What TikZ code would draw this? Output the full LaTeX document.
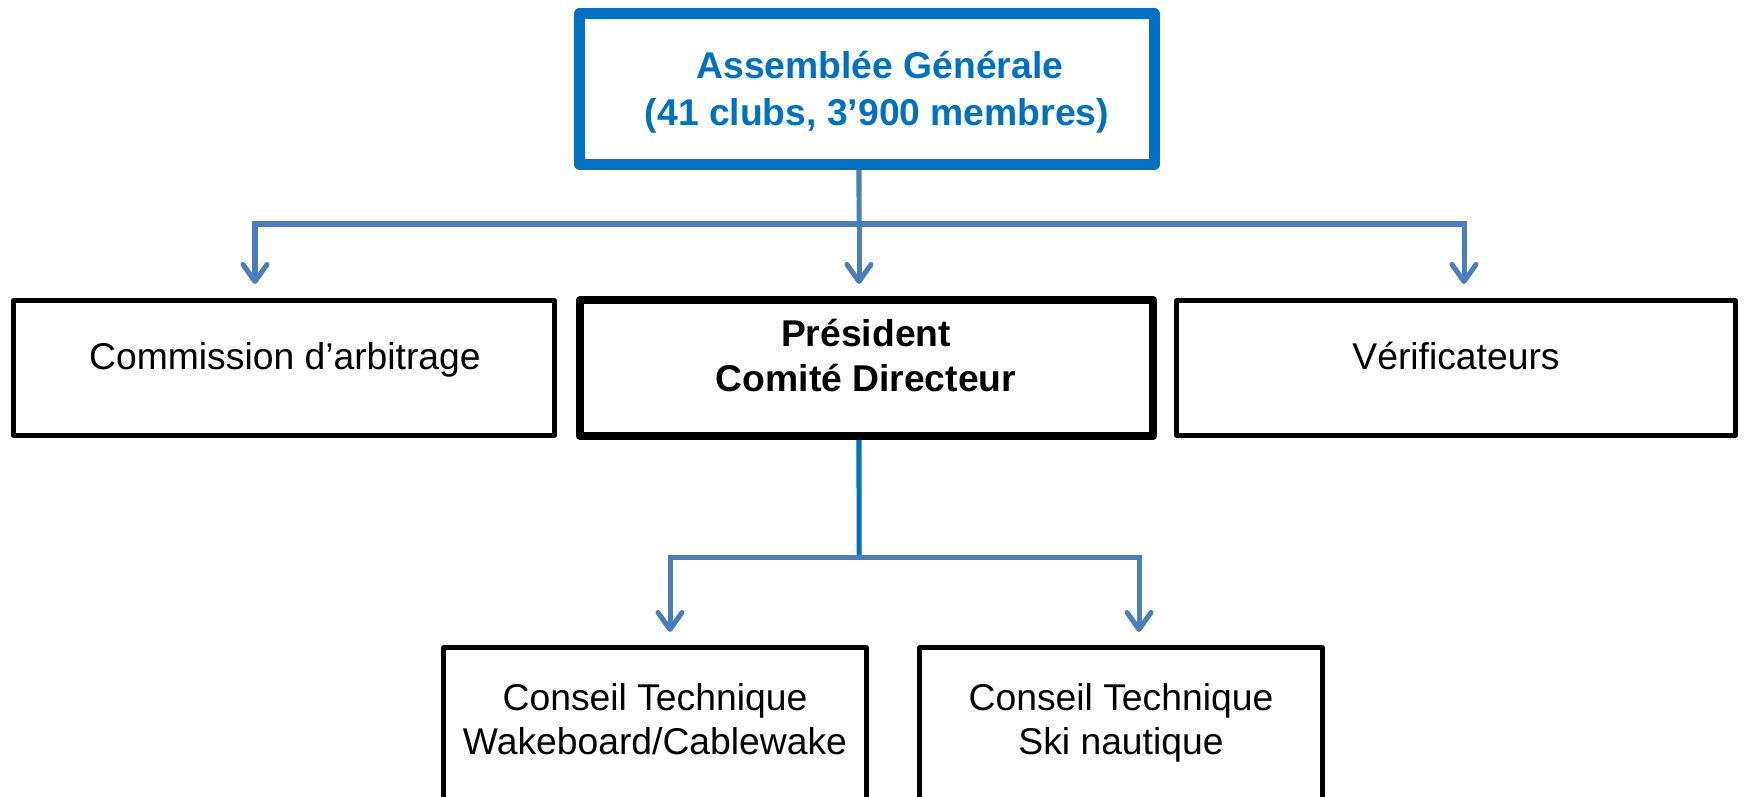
\documentclass[tikz,border=0pt]{standalone}
\usepackage{fontspec}
\setmainfont{Liberation Sans}
\usetikzlibrary{arrows.meta}
\definecolor{agblue}{HTML}{0070C0}
\definecolor{linkblue}{HTML}{4A7EBB}

\begin{document}
\begin{tikzpicture}[
		x=0.01cm, y=-0.01cm,
		every node/.style={font=\fontsize{10.6}{12.7}\selectfont},
		box/.style={rectangle, draw, line width=0.05cm, line join=round, inner sep=0pt},
		txt/.style={draw=none, inner sep=0pt, anchor=base},
		bold/.style={font=\fontsize{10.6}{12.7}\selectfont\bfseries},
		link/.style={draw=linkblue, line width=0.05cm},
		tip/.style={-{Straight Barb[length=0.17cm, width=0.24cm, round]}}
	]
  \useasboundingbox (0,0) rectangle (1744,797);
  \clip (0,0) rectangle (1744,797);
  % assemblee
  \node (ag) [box, draw=agblue, line width=0.11cm, minimum width=5.74cm, minimum height=1.5cm] at (867,89) {};
  \node (ag_l1) [txt, bold, text=agblue] at (880,78) {Assemblée Générale};
  \node (ag_l2) [txt, bold, text=agblue] at (877,125) {(41 clubs, 3’900 membres)};
  % middle row
  \node (com) [box, minimum width=5.41cm, minimum height=1.34cm] at (284,368) {};
  \node (com_txt) [txt] at (285,369) {Commission d’arbitrage};
  \node (pres) [box, line width=0.08cm, minimum width=5.73cm, minimum height=1.36cm] at (866.5,368) {};
  \node (pres_l1) [txt, bold] at (866,347) {Président};
  \node (pres_l2) [txt, bold] at (866,391) {Comité Directeur};
  \node (ver) [box, minimum width=5.585cm, minimum height=1.34cm] at (1456,368) {};
  \node (ver_txt) [txt] at (1456,369) {Vérificateurs};
  % bottom row
  \node (wake) [box, minimum width=4.22cm, minimum height=1.51cm] at (655,723.5) {};
  \node (wake_l1) [txt] at (655,710) {Conseil Technique};
  \node (wake_l2) [txt] at (655,754) {Wakeboard/Cablewake};
  \node (ski) [box, minimum width=4.02cm, minimum height=1.51cm] at (1121,723.5) {};
  \node (ski_l1) [txt] at (1121,710) {Conseil Technique};
  \node (ski_l2) [txt] at (1121,754) {Ski nautique};
  % connectors
  \coordinate (split_top) at (859,224);
  \coordinate (arr_com) at (255,284);
  \coordinate (arr_pres) at (859,284);
  \coordinate (arr_ver) at (1464,284);
  \draw [link] ([xshift=-0.08cm]ag.south) -- (split_top);
  \draw [link, tip] (split_top) -- (arr_pres);
  \draw [link, tip] (split_top) -| (arr_com);
  \draw [link, tip] (split_top) -| (arr_ver);
  \coordinate (split_low) at (859,557);
  \coordinate (arr_wake) at (670,632);
  \coordinate (arr_ski) at (1139,632);
  \draw [link, draw=agblue] ([xshift=-0.075cm]pres.south) -- (split_low);
  \draw [link, tip] (split_low) -| (arr_wake);
  \draw [link, tip] (split_low) -| (arr_ski);
\end{tikzpicture}
\end{document}
